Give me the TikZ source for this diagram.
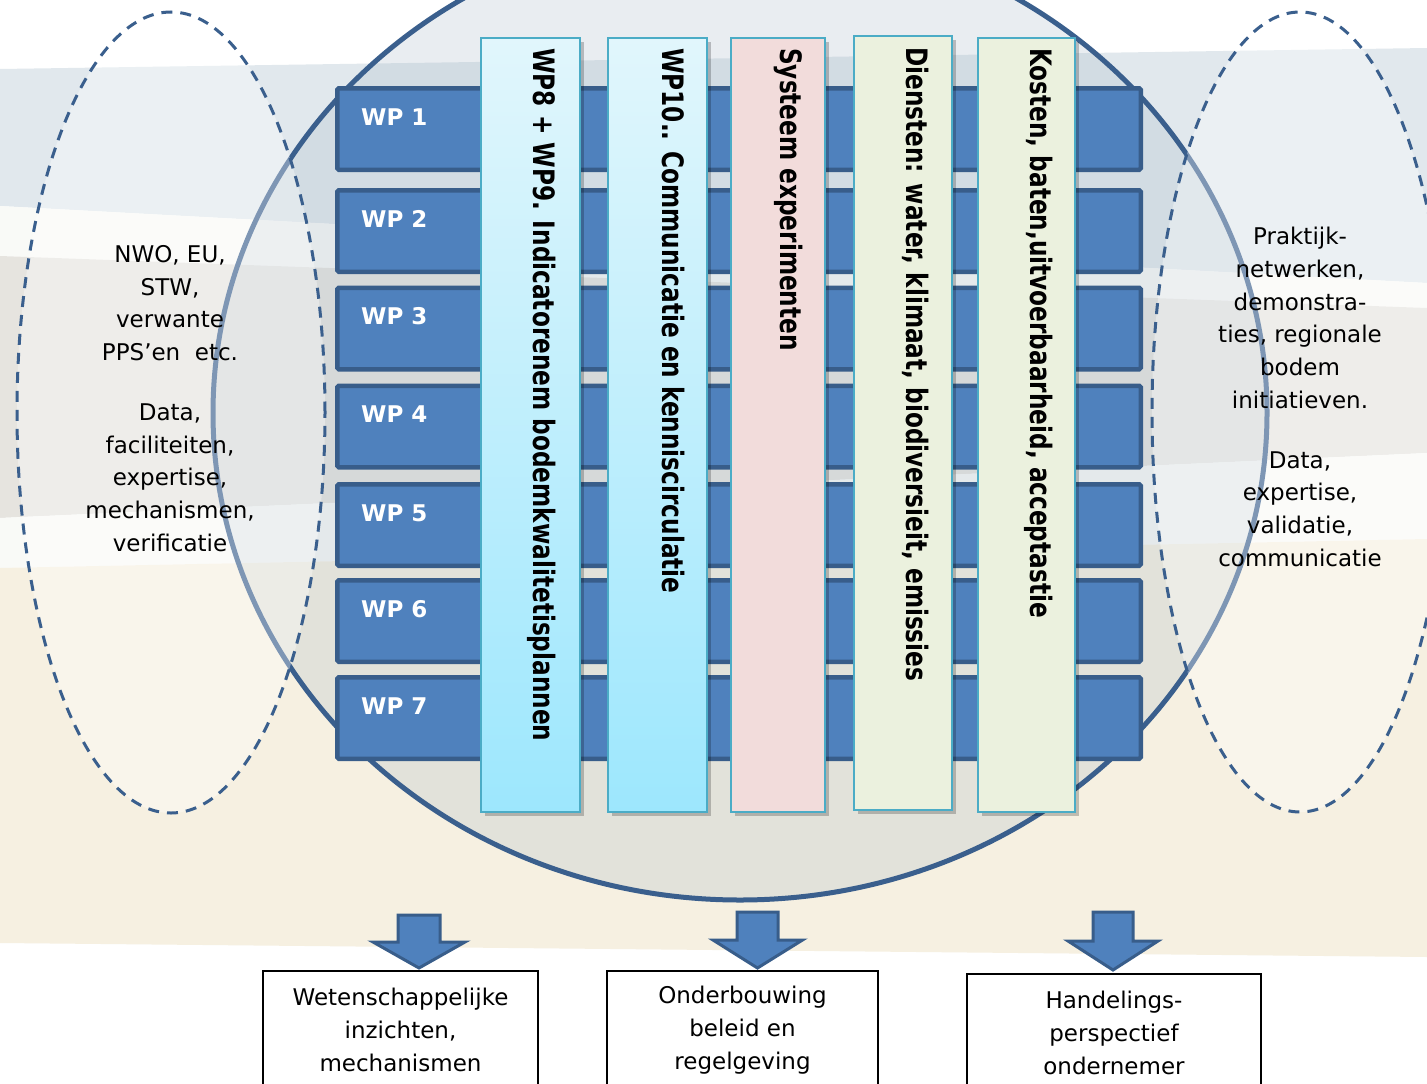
\documentclass[tikz,border=0pt]{standalone}
\usepackage{fontspec}
\setmainfont{DejaVu Sans}
\usetikzlibrary{shapes.geometric}
\definecolor{wpfill}{HTML}{4F81BD}
\definecolor{wpdraw}{HTML}{385D8A}
\definecolor{circdraw}{HTML}{3A5F8D}
\definecolor{circfill}{HTML}{A9B9C9}
\definecolor{colborder}{HTML}{4BACC6}
\definecolor{cyantop}{HTML}{E1F6FC}
\definecolor{cyanbot}{HTML}{9DE7FD}
\definecolor{pinkcol}{HTML}{F2DCDB}
\definecolor{greencol}{HTML}{EBF1DE}
\definecolor{bandblue}{HTML}{E1E8ED}
\definecolor{bandgrey}{HTML}{E6E4DF}
\definecolor{bandcream}{HTML}{F6F0E1}
\definecolor{bandwhite}{HTML}{F9FAF7}
\begin{document}
\begin{tikzpicture}[x=1pt,y=-1pt,
  bigcirc/.style={ellipse, inner sep=0pt, fill=circfill, fill opacity=0.25, draw=circdraw, line width=5pt},
  partner/.style={ellipse, inner sep=0pt, fill=white, fill opacity=0.35, draw=circdraw, line width=3pt, dash pattern=on 11pt off 8pt},
  wpbar/.style={rectangle, inner sep=0pt, fill=wpfill, draw=wpdraw, line width=4.5pt, rounded corners=1.5pt, minimum width=803.5pt, minimum height=81.5pt},
  wplabel/.style={anchor=base west, inner sep=0pt, text=white, font=\bfseries\fontsize{23}{28}\selectfont},
  colbox/.style={rectangle, inner sep=0pt, draw=colborder, line width=2pt, minimum height=774pt},
  colshadow/.style={rectangle, inner sep=0pt, fill=black, fill opacity=0.22, minimum height=774pt},
  coltext/.style={anchor=base west, inner sep=0pt, rotate=-90, font=\bfseries\fontsize{23.2}{28}\selectfont},
  sidetext/.style={align=center, inner sep=0pt, font=\fontsize{23}{32.7}\selectfont},
  blockarrow/.style={fill=wpfill, draw=wpdraw, line width=3pt, line join=miter},
  outbox/.style={rectangle, draw=black, line width=2pt, fill=white, inner sep=0pt, align=center, minimum height=118pt, anchor=north, font=\fontsize{23}{33}\selectfont}
]
\useasboundingbox (0,0) rectangle (1427,1084);
\clip (0,0) rectangle (1427,1084);
% background bands
\fill[white] (0,0) rectangle (1427,1084);
\fill[bandblue] (0,69) -- (1427,48) -- (1427,283) -- (0,206) -- cycle;
\fill[bandwhite] (0,206) -- (1427,283) -- (1427,308) -- (0,256) -- cycle;
\fill[bandgrey] (0,256) -- (1427,308) -- (1427,453) -- (0,518) -- cycle;
\fill[bandwhite] (0,518) -- (1427,453) -- (1427,539) -- (0,568) -- cycle;
\fill[bandcream] (0,568) -- (1427,539) -- (1427,957) -- (0,943) -- cycle;

% big circle
\node[bigcirc, minimum width=1054pt, minimum height=974pt] (circle) at (740,413) {};

% partner ellipses
\node[partner, minimum width=308pt, minimum height=801pt] (left) at (171,412.5) {};
\node[partner, minimum width=296pt, minimum height=800pt] (right) at (1300,412) {};

% WP bars
\foreach \n/\y in {1/129,2/231,3/328.5,4/426.5,5/525,6/621,7/718}{
  \node[wpbar] (wp\n) at (739,\y) {};
  \node[wplabel] (wpl\n) at (361,\y-4) {WP \n};
}

% column shadows
\node[colshadow, minimum width=99pt] (sh1) at (534.5,429) {};
\node[colshadow, minimum width=99pt] (sh2) at (661.5,429) {};
\node[colshadow, minimum width=94pt] (sh3) at (782,429) {};
\node[colshadow, minimum width=98pt] (sh4) at (907,427) {};
\node[colshadow, minimum width=97pt] (sh5) at (1030.5,429) {};

% columns
\node[colbox, minimum width=99pt, top color=cyantop, bottom color=cyanbot] (col1) at (530.5,425) {};
\node[colbox, minimum width=99pt, top color=cyantop, bottom color=cyanbot] (col2) at (657.5,425) {};
\node[colbox, minimum width=94pt, fill=pinkcol] (col3) at (778,425) {};
\node[colbox, minimum width=98pt, fill=greencol] (col4) at (903,423) {};
\node[colbox, minimum width=97pt, fill=greencol] (col5) at (1026.5,425) {};

% column texts
\node[coltext] (t1) at (533,48) {\scalebox{1}[1.27]{WP8 + WP9. Indicatorenem bodemkwalitetisplannen}};
\node[coltext] (t2) at (662,48) {\scalebox{1}[1.27]{WP10.. Communicatie en kenniscirculatie}};
\node[coltext] (t3) at (780,48) {\scalebox{1}[1.27]{Systeem experimenten}};
\node[coltext] (t4) at (906,47) {\scalebox{1}[1.27]{Diensten: water, klimaat, biodiversieit, emissies}};
\node[coltext] (t5) at (1030,48) {\scalebox{1}[1.27]{Kosten, baten,uitvoerbaarheid, acceptastie}};

% side texts
\node[sidetext] (lt1) at (170,303) {NWO, EU,\\STW,\\verwante\\PPS’en\ \ etc.};
\node[sidetext] (lt2) at (170,477.5) {Data,\\faciliteiten,\\expertise,\\mechanismen,\\verificatie};
\node[sidetext] (rt1) at (1300,318) {Praktijk-\\netwerken,\\demonstra-\\ties, regionale\\bodem\\initiatieven.};
\node[sidetext] (rt2) at (1300,509) {Data,\\expertise,\\validatie,\\communicatie};

% output boxes
\node[outbox, minimum width=275pt] (out1) at (400.5,970) {Wetenschappelijke\\inzichten,\\mechanismen};
\node[outbox, minimum width=271pt] (out2) at (742.5,970) {Onderbouwing\\beleid en\\regelgeving};
\node[outbox, minimum width=294pt] (out3) at (1114,973) {Handelings-\\perspectief\\ondernemer};

% block arrows
\coordinate (a1) at (419,968);
\coordinate (a2) at (757.5,968);
\coordinate (a3) at (1113,970);
\draw[blockarrow] (a1) -- ++(-46,-26) -- ++(25,0) -- ++(0,-27) -- ++(42,0) -- ++(0,27) -- ++(25,0) -- cycle;
\draw[blockarrow] (a2) -- ++(-44.5,-28) -- ++(24,0) -- ++(0,-28) -- ++(41,0) -- ++(0,28) -- ++(24.5,0) -- cycle;
\draw[blockarrow] (a3) -- ++(-45,-29) -- ++(25,0) -- ++(0,-29) -- ++(40,0) -- ++(0,29) -- ++(25,0) -- cycle;
\end{tikzpicture}
\end{document}
